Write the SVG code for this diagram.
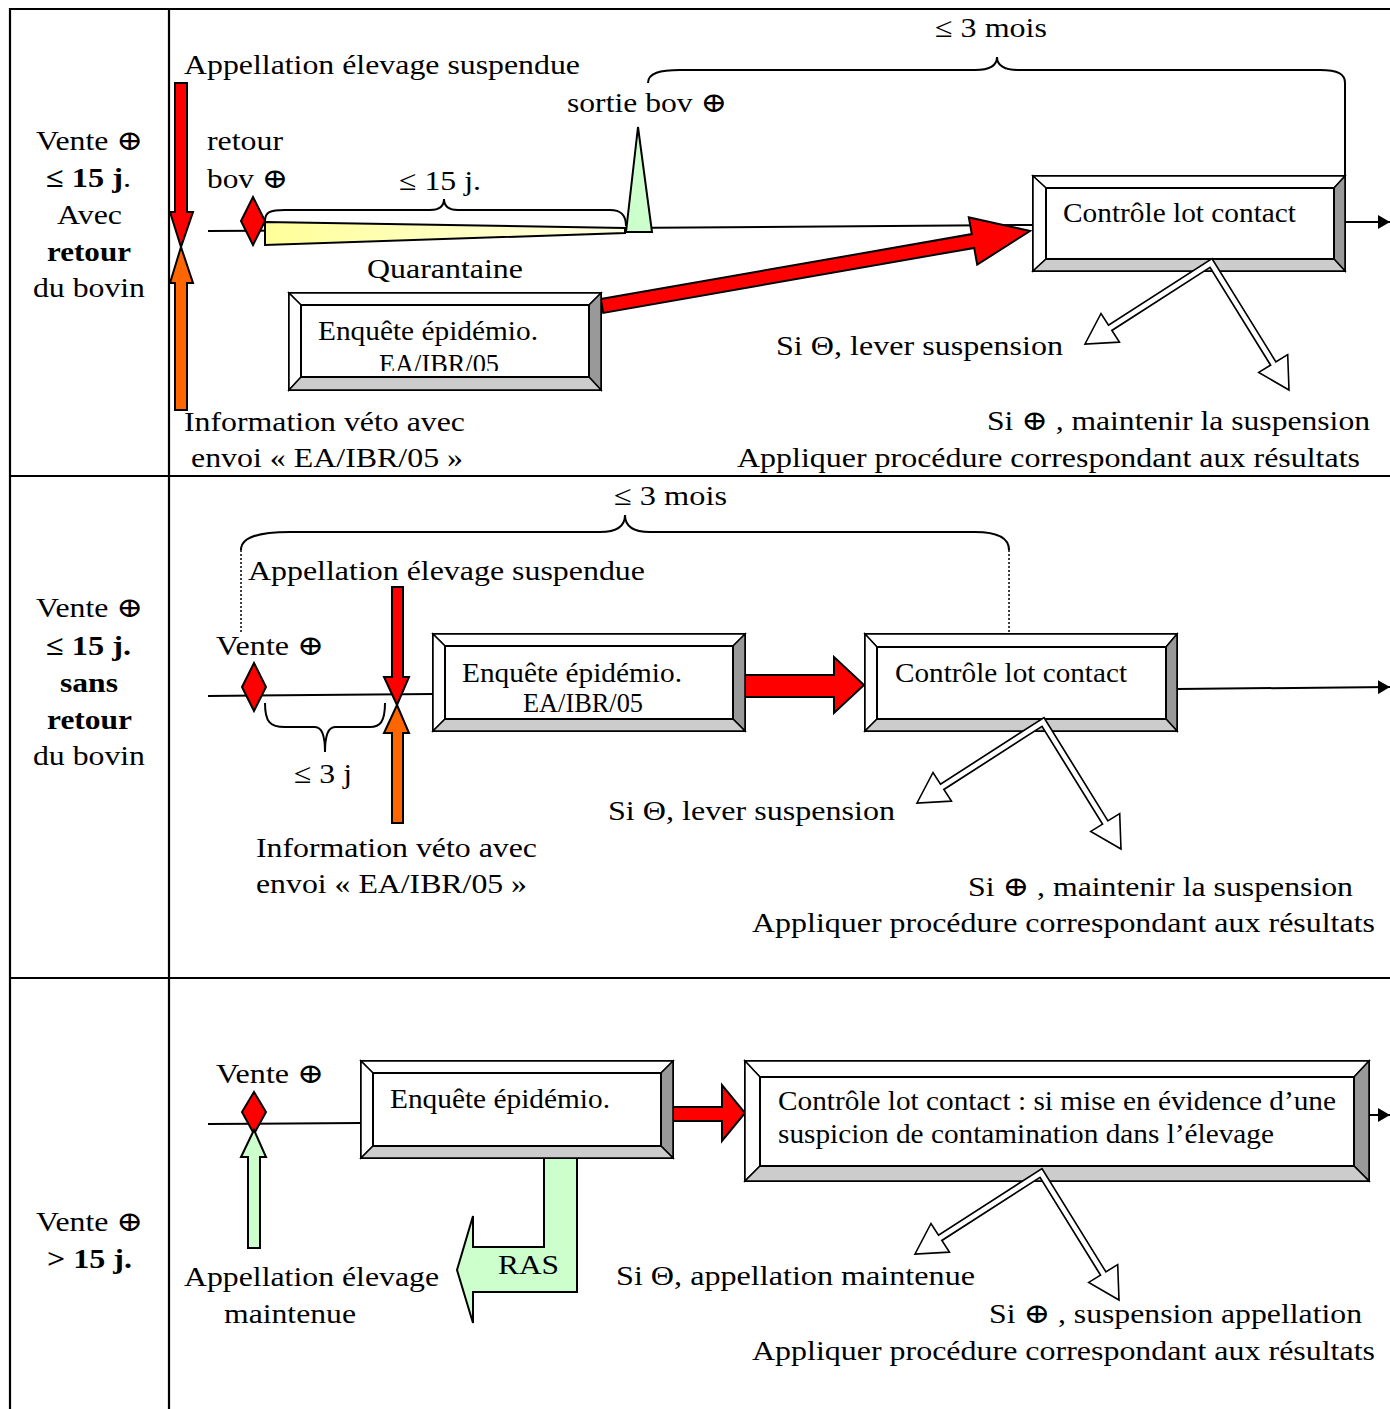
<svg xmlns="http://www.w3.org/2000/svg" width="1390" height="1409" viewBox="0 0 1390 1409">
<style>
.t{font-family:"Liberation Serif","Times New Roman","DejaVu Serif",serif;font-size:28px;fill:#000}
.b{font-weight:bold}
.grid{stroke:#000;stroke-width:2.2;fill:none}
.ln{stroke:#000;stroke-width:2;fill:none}
.brace{stroke:#000;stroke-width:2;fill:none}
.dot{stroke:#000;stroke-width:1.5;stroke-dasharray:2 2;fill:none}
.sh{stroke:#000;stroke-width:2;stroke-linejoin:miter}
.red{fill:#ff0000}
.org{fill:#ff6600}
.grn{fill:#ccffcc}
.bv{stroke:#000;stroke-width:1.5;stroke-linejoin:miter}
.bw{fill:#fff}
.bd{fill:#999}
.bl{fill:#ccc}
</style>
<defs>
<marker id="ah" viewBox="0 0 12 14" refX="12" refY="7" markerWidth="12" markerHeight="14" markerUnits="userSpaceOnUse" orient="auto">
<path d="M0,0 L12,7 L0,14 Z" fill="#000"/>
</marker>
<linearGradient id="yg" x1="0" y1="0" x2="1" y2="0">
<stop offset="0" stop-color="#ffff99"/>
<stop offset="1" stop-color="#ffffe6"/>
</linearGradient>
<clipPath id="c1"><rect x="301" y="305" width="288" height="66"/></clipPath>
<g id="split">
<polygon points="-91.6,79.1 -126,81 -110,50.5" fill="#fff" stroke="#000" stroke-width="1.6" stroke-linejoin="miter"/>
<polygon points="76.7,91.6 78,127 47.7,109.4" fill="#fff" stroke="#000" stroke-width="1.6" stroke-linejoin="miter"/>
<polyline points="-100.8,64.8 0,0 62.2,100.5" fill="none" stroke="#000" stroke-width="8" stroke-linejoin="miter" stroke-miterlimit="10"/>
<polyline points="-103.3,66.4 0,0 63.8,103" fill="none" stroke="#fff" stroke-width="4.6" stroke-linejoin="miter" stroke-miterlimit="10"/>
</g>
</defs>
<rect width="1390" height="1409" fill="#fff"/>

<g id="table">
<line class="grid" x1="10" y1="9" x2="1390" y2="9"/>
<line class="grid" x1="10" y1="476" x2="1390" y2="476"/>
<line class="grid" x1="10" y1="978" x2="1390" y2="978"/>
<line class="grid" x1="10" y1="8" x2="10" y2="1409"/>
<line class="grid" x1="169" y1="8" x2="169" y2="1409"/>
</g>

<g id="row-labels">
<text class="t" x="36" y="150" textLength="107" lengthAdjust="spacingAndGlyphs">Vente ⊕</text>
<text class="t" x="46" y="187" textLength="85" lengthAdjust="spacingAndGlyphs"><tspan class="b">≤ 15 j</tspan>.</text>
<text class="t" x="57" y="224" textLength="65" lengthAdjust="spacingAndGlyphs">Avec</text>
<text class="t b" x="47" y="261" textLength="84" lengthAdjust="spacingAndGlyphs">retour</text>
<text class="t" x="33" y="297" textLength="112" lengthAdjust="spacingAndGlyphs">du bovin</text>

<text class="t" x="36" y="617" textLength="107" lengthAdjust="spacingAndGlyphs">Vente ⊕</text>
<text class="t b" x="46" y="655" textLength="85" lengthAdjust="spacingAndGlyphs">≤ 15 j.</text>
<text class="t b" x="60" y="692" textLength="58" lengthAdjust="spacingAndGlyphs">sans</text>
<text class="t b" x="47" y="729" textLength="85" lengthAdjust="spacingAndGlyphs">retour</text>
<text class="t" x="33" y="765" textLength="112" lengthAdjust="spacingAndGlyphs">du bovin</text>

<text class="t" x="36" y="1231" textLength="107" lengthAdjust="spacingAndGlyphs">Vente ⊕</text>
<text class="t b" x="47" y="1268" textLength="85" lengthAdjust="spacingAndGlyphs">&gt; 15 j.</text>
</g>

<g id="connectors">
<line class="ln" x1="208" y1="231" x2="1033" y2="225"/>
<line class="ln" x1="1345" y1="222" x2="1390" y2="222" marker-end="url(#ah)"/>
<path class="brace" d="M265,221 C265,212 270,210 285,210 L430,210 C440,210 444,206 444,199 C444,206 448,210 458,210 L610,210 C620,210 626,214 626,226"/>
<path class="brace" d="M648,83 C648,73 660,70 680,70 L975,70 C990,70 997,65 997,57 C997,65 1004,70 1019,70 L1320,70 C1338,70 1345,74 1345,83 L1345,176"/>
<polygon class="sh red" points="600.8,299.1 971.8,234.1 968.8,217.4 1030,231 977.2,264.6 974.2,247.9 603.2,312.9"/>
<line class="ln" x1="208" y1="696" x2="433" y2="694"/>
<line class="ln" x1="1177" y1="689" x2="1390" y2="687" marker-end="url(#ah)"/>
<path class="brace" d="M241,550 C241,537 258,532 290,532 L600,532 C618,532 625,526 625,515 C625,526 632,532 650,532 L975,532 C995,532 1009,537 1009,550"/>
<line class="dot" x1="241" y1="550" x2="241" y2="632"/>
<line class="dot" x1="1009" y1="550" x2="1009" y2="632"/>
<path class="brace" d="M265,703 C265,722 270,727 285,727 L315,727 C322,727 325,735 325,752 C325,735 328,727 335,727 L370,727 C380,727 385,722 385,703"/>
<polygon class="sh red" points="745,675 834,675 834,657 864,685 834,713 834,697 745,697"/>
<line class="ln" x1="208" y1="1124" x2="361" y2="1123"/>
<line class="ln" x1="1369" y1="1115" x2="1390" y2="1115" marker-end="url(#ah)"/>
<polygon class="sh red" points="673,1107 722,1107 722,1085 745,1113 722,1141 722,1121 673,1121"/>
<polygon class="sh grn" points="544,1158 577,1158 577,1292 473,1292 473,1323 457,1270 473,1216 473,1247 544,1247"/>
</g>

<g id="row1-markers">
<polygon class="sh red" points="175,83 187,83 187,212 193,212 181,247 170,212 175,212"/>
<polygon class="sh org" points="181,247 193,283 187,283 187,410 175,410 175,283 170,283"/>
<polygon class="sh red" points="253,197 265,221 253,245 241,221"/>
<polygon points="265,222 625,228 625,233 265,245" fill="url(#yg)" stroke="#000" stroke-width="2"/>
<polygon class="sh grn" points="638,127 652,232 626,232"/>
</g>

<g id="row2-markers">
<polygon class="sh red" points="254,663 266,687 254,711 242,687"/>
<polygon class="sh red" points="392,587 403,587 403,677 409,677 397,705 384,677 392,677"/>
<polygon class="sh org" points="397,705 409,733 403,733 403,823 392,823 392,733 384,733"/>
</g>

<g id="row3-markers">
<polygon class="sh red" points="254,1092 266,1112 254,1134 242,1112"/>
<polygon class="sh grn" points="254,1130 266,1157 260,1157 260,1248 248,1248 248,1157 241,1157"/>
</g>

<g id="enquete-1">
<rect x="289" y="293" width="312" height="97" fill="#fff" stroke="#000" stroke-width="2"/>
<polygon class="bv bw" points="289,293 601,293 589,305 301,305"/>
<polygon class="bv bw" points="289,293 301,305 301,377 289,390"/>
<polygon class="bv bd" points="601,293 601,390 589,377 589,305"/>
<polygon class="bv bl" points="289,390 301,377 589,377 601,390"/>
<rect x="301" y="305" width="288" height="72" fill="#fff" stroke="#000" stroke-width="2"/>
<text class="t" x="318" y="340" textLength="220" lengthAdjust="spacingAndGlyphs">Enquête épidémio.</text>
<text class="t" x="379" y="373" textLength="120" lengthAdjust="spacingAndGlyphs" clip-path="url(#c1)">EA/IBR/05</text>
</g>

<g id="controle-1">
<rect x="1033" y="176" width="312" height="95" fill="#fff" stroke="#000" stroke-width="2"/>
<polygon class="bv bw" points="1033,176 1345,176 1334,188 1046,188"/>
<polygon class="bv bw" points="1033,176 1046,188 1046,259 1033,271"/>
<polygon class="bv bd" points="1345,176 1345,271 1334,259 1334,188"/>
<polygon class="bv bl" points="1033,271 1046,259 1334,259 1345,271"/>
<rect x="1046" y="188" width="288" height="71" fill="#fff" stroke="#000" stroke-width="2"/>
<text class="t" x="1063" y="222" textLength="233" lengthAdjust="spacingAndGlyphs">Contrôle lot contact</text>
</g>

<g id="enquete-2">
<rect x="433" y="634" width="312" height="97" fill="#fff" stroke="#000" stroke-width="2"/>
<polygon class="bv bw" points="433,634 745,634 733,646 445,646"/>
<polygon class="bv bw" points="433,634 445,646 445,719 433,731"/>
<polygon class="bv bd" points="745,634 745,731 733,719 733,646"/>
<polygon class="bv bl" points="433,731 445,719 733,719 745,731"/>
<rect x="445" y="646" width="288" height="73" fill="#fff" stroke="#000" stroke-width="2"/>
<text class="t" x="462" y="682" textLength="220" lengthAdjust="spacingAndGlyphs">Enquête épidémio.</text>
<text class="t" x="523" y="712" textLength="120" lengthAdjust="spacingAndGlyphs">EA/IBR/05</text>
</g>

<g id="controle-2">
<rect x="865" y="634" width="312" height="97" fill="#fff" stroke="#000" stroke-width="2"/>
<polygon class="bv bw" points="865,634 1177,634 1166,647 877,647"/>
<polygon class="bv bw" points="865,634 877,647 877,719 865,731"/>
<polygon class="bv bd" points="1177,634 1177,731 1166,719 1166,647"/>
<polygon class="bv bl" points="865,731 877,719 1166,719 1177,731"/>
<rect x="877" y="647" width="289" height="72" fill="#fff" stroke="#000" stroke-width="2"/>
<text class="t" x="895" y="682" textLength="232" lengthAdjust="spacingAndGlyphs">Contrôle lot contact</text>
</g>

<g id="enquete-3">
<rect x="361" y="1061" width="312" height="97" fill="#fff" stroke="#000" stroke-width="2"/>
<polygon class="bv bw" points="361,1061 673,1061 661,1073 373,1073"/>
<polygon class="bv bw" points="361,1061 373,1073 373,1146 361,1158"/>
<polygon class="bv bd" points="673,1061 673,1158 661,1146 661,1073"/>
<polygon class="bv bl" points="361,1158 373,1146 661,1146 673,1158"/>
<rect x="373" y="1073" width="288" height="73" fill="#fff" stroke="#000" stroke-width="2"/>
<text class="t" x="390" y="1108" textLength="220" lengthAdjust="spacingAndGlyphs">Enquête épidémio.</text>
</g>

<g id="controle-3">
<rect x="745" y="1061" width="624" height="120" fill="#fff" stroke="#000" stroke-width="2"/>
<polygon class="bv bw" points="745,1061 1369,1061 1354,1077 760,1077"/>
<polygon class="bv bw" points="745,1061 760,1077 760,1166 745,1181"/>
<polygon class="bv bd" points="1369,1061 1369,1181 1354,1166 1354,1077"/>
<polygon class="bv bl" points="745,1181 760,1166 1354,1166 1369,1181"/>
<rect x="760" y="1077" width="594" height="89" fill="#fff" stroke="#000" stroke-width="2"/>
<text class="t" x="778" y="1110" textLength="558" lengthAdjust="spacingAndGlyphs">Contrôle lot contact : si mise en évidence d’une</text>
<text class="t" x="778" y="1143" textLength="496" lengthAdjust="spacingAndGlyphs">suspicion de contamination dans l’élevage</text>
</g>

<g id="splits">
<use href="#split" transform="translate(1211,263)"/>
<use href="#split" transform="translate(1043,722)"/>
<use href="#split" transform="translate(1041,1173)"/>
</g>

<g id="labels-row1">
<text class="t" x="184" y="74" textLength="396" lengthAdjust="spacingAndGlyphs">Appellation élevage suspendue</text>
<text class="t" x="207" y="150" textLength="76" lengthAdjust="spacingAndGlyphs">retour</text>
<text class="t" x="207" y="188" textLength="81" lengthAdjust="spacingAndGlyphs">bov ⊕</text>
<text class="t" x="399" y="190" textLength="82" lengthAdjust="spacingAndGlyphs">≤ 15 j.</text>
<text class="t" x="567" y="112" textLength="160" lengthAdjust="spacingAndGlyphs">sortie bov ⊕</text>
<text class="t" x="935" y="37" textLength="112" lengthAdjust="spacingAndGlyphs">≤ 3 mois</text>
<text class="t" x="367" y="278" textLength="156" lengthAdjust="spacingAndGlyphs">Quarantaine</text>
<text class="t" x="776" y="355" textLength="287" lengthAdjust="spacingAndGlyphs">Si Θ, lever suspension</text>
<text class="t" x="987" y="430" textLength="383" lengthAdjust="spacingAndGlyphs">Si ⊕ , maintenir la suspension</text>
<text class="t" x="737" y="467" textLength="623" lengthAdjust="spacingAndGlyphs">Appliquer procédure correspondant aux résultats</text>
<text class="t" x="184" y="431" textLength="281" lengthAdjust="spacingAndGlyphs">Information véto avec</text>
<text class="t" x="191" y="467" textLength="272" lengthAdjust="spacingAndGlyphs">envoi « EA/IBR/05 »</text>
</g>

<g id="labels-row2">
<text class="t" x="614" y="505" textLength="113" lengthAdjust="spacingAndGlyphs">≤ 3 mois</text>
<text class="t" x="248" y="580" textLength="397" lengthAdjust="spacingAndGlyphs">Appellation élevage suspendue</text>
<text class="t" x="216" y="655" textLength="108" lengthAdjust="spacingAndGlyphs">Vente ⊕</text>
<text class="t" x="294" y="783" textLength="58" lengthAdjust="spacingAndGlyphs">≤ 3 j</text>
<text class="t" x="256" y="857" textLength="281" lengthAdjust="spacingAndGlyphs">Information véto avec</text>
<text class="t" x="256" y="893" textLength="271" lengthAdjust="spacingAndGlyphs">envoi « EA/IBR/05 »</text>
<text class="t" x="608" y="820" textLength="287" lengthAdjust="spacingAndGlyphs">Si Θ, lever suspension</text>
<text class="t" x="968" y="896" textLength="385" lengthAdjust="spacingAndGlyphs">Si ⊕ , maintenir la suspension</text>
<text class="t" x="752" y="932" textLength="623" lengthAdjust="spacingAndGlyphs">Appliquer procédure correspondant aux résultats</text>
</g>

<g id="labels-row3">
<text class="t" x="216" y="1083" textLength="108" lengthAdjust="spacingAndGlyphs">Vente ⊕</text>
<text class="t" x="498" y="1274" textLength="61" lengthAdjust="spacingAndGlyphs">RAS</text>
<text class="t" x="184" y="1286" textLength="255" lengthAdjust="spacingAndGlyphs">Appellation élevage</text>
<text class="t" x="224" y="1323" textLength="132" lengthAdjust="spacingAndGlyphs">maintenue</text>
<text class="t" x="616" y="1285" textLength="359" lengthAdjust="spacingAndGlyphs">Si Θ, appellation maintenue</text>
<text class="t" x="989" y="1323" textLength="373" lengthAdjust="spacingAndGlyphs">Si ⊕ , suspension appellation</text>
<text class="t" x="752" y="1360" textLength="623" lengthAdjust="spacingAndGlyphs">Appliquer procédure correspondant aux résultats</text>
</g>
</svg>
